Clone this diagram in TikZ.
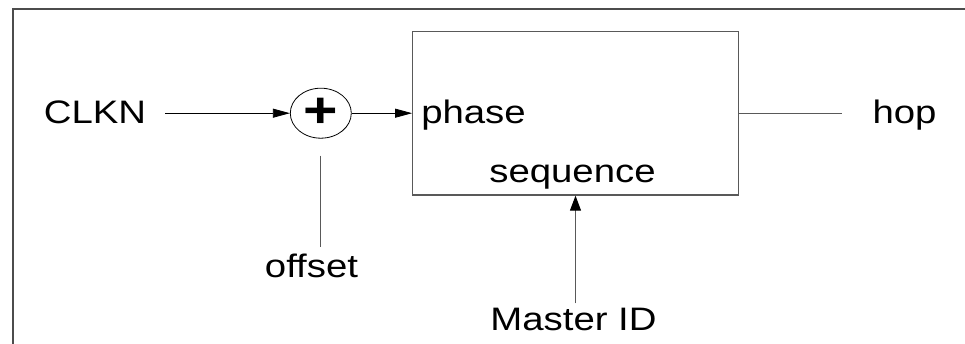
\documentclass[tikz,border=0pt]{standalone}
\usepackage{fontspec}
\setmainfont[FakeStretch=1.18]{Liberation Sans}
\usetikzlibrary{arrows.meta,shapes.geometric}

\begin{document}
\begin{tikzpicture}[x=1pt,y=-1pt,
  lbl/.style={font=\fontsize{32.5}{32.5}\selectfont, inner sep=0pt, anchor=base},
  arr/.style={line width=0.8pt, black, -{Triangle[length=17pt,width=9pt]}},
  gline/.style={line width=1pt, black!65},
  garr/.style={gline, -{Triangle[length=15pt,width=11pt,color=black]}},
  frame/.style={line width=1.2pt, black!70}]
\useasboundingbox (0,0) rectangle (965,344);

% outer frame (open on the right and at the bottom)
\draw[frame] (13,344) -- (13,9) -- (965,9);

% hop-sequence block
\node[draw=black!65, line width=1.2pt, minimum width=325.6pt, minimum height=163.7pt,
      inner sep=0pt] (box) at (575.5,113.2) {};
\node[lbl] (phase) at (473.5,123.5) {phase};
\node[lbl] (seq) at (572.5,183) {sequence};

% adder
\node[draw, ellipse, line width=0.8pt, minimum width=61pt, minimum height=50pt,
      inner sep=0pt] (plus) at (320.8,113.2) {};
\node[font=\fontsize{50}{50}\selectfont\bfseries, inner sep=0pt, anchor=base]
      (plussign) at (321,128) {+};

% labels
\node[lbl] (clkn) at (95,123.3) {CLKN};
\node[lbl] (offset) at (311.5,277) {offset};
\node[lbl] (master) at (573.5,330) {Master ID};
\node[lbl] (hop) at (904.5,124) {hop};

% connectors
\path (clkn.east) ++(19pt,0) coordinate (c0);
\draw[arr] (c0 |- plus.west) -- (plus.west);
\draw[arr] (plus.east) -- (plus.east -| box.west);
\draw[gline, shorten <=17pt, shorten >=6pt] (plus.south) -- (plus.south |- offset.north);
\draw[garr, shorten <=4pt] (master.north -| box.south) -- (box.south);
\draw[gline, shorten >=30pt] (box.east |- plus.east) -- (hop.west |- plus.east);
\end{tikzpicture}
\end{document}
